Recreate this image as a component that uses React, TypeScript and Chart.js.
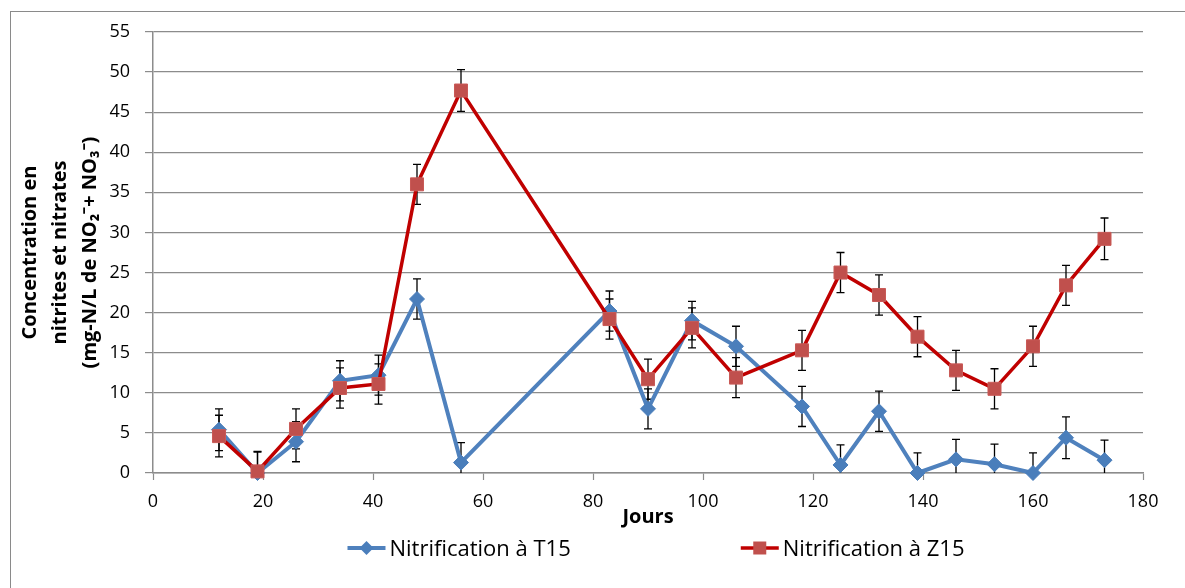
import React, { useEffect, useRef } from "react";
import { Chart, registerables } from "chart.js";

Chart.register(...registerables);

// ---- data ----
const days = [12, 19, 26, 34, 41, 48, 56, 83, 90, 98, 106, 118, 125, 132, 139, 146, 153, 160, 166, 173];
const t15Values = [5.4, 0, 3.9, 11.5, 12.2, 21.7, 1.3, 20.2, 8.0, 19.0, 15.8, 8.3, 1.0, 7.7, 0, 1.7, 1.1, 0, 4.4, 1.6];
const t15Errors = [2.6, 2.6, 2.5, 2.5, 2.5, 2.5, 2.5, 2.5, 2.5, 2.4, 2.5, 2.5, 2.5, 2.5, 2.5, 2.5, 2.5, 2.5, 2.6, 2.5];
const z15Values = [4.6, 0.2, 5.5, 10.6, 11.1, 36.0, 47.7, 19.2, 11.7, 18.1, 11.9, 15.3, 25.0, 22.2, 17.0, 12.8, 10.5, 15.8, 23.4, 29.2];
const z15Errors = [2.6, 2.5, 2.5, 2.5, 2.5, 2.5, 2.6, 2.5, 2.5, 2.5, 2.5, 2.5, 2.5, 2.5, 2.5, 2.5, 2.5, 2.5, 2.5, 2.6];
const seriesLabels = ["Nitrification à T15", "Nitrification à Z15"];
const xTitle = "Jours";
const yTitle = ["Concentration en", "nitrites et nitrates", "(mg-N/L de NO₂⁻+ NO₃⁻)"];
const xRange = [0, 180];
const xStep = 20;
const yRange = [0, 55];
const yStep = 5;

const FONT = "'Open Sans', 'Liberation Sans', sans-serif";
const GRID = "#8c8c8c";

const errorBarsPlugin = {
  id: "errorBars",
  beforeDatasetsDraw(chart: any) {
    const { ctx, chartArea, scales } = chart;
    const x = scales.x;
    const y = scales.y;
    ctx.save();
    ctx.beginPath();
    ctx.rect(chartArea.left, chartArea.top - 20, chartArea.right - chartArea.left, chartArea.bottom - chartArea.top + 20);
    ctx.clip();
    ctx.strokeStyle = "#000";
    ctx.lineWidth = 1.3;
    chart.data.datasets.forEach((ds: any) => {
      const errs: number[] = ds.errorBars || [];
      ds.data.forEach((p: any, i: number) => {
        const e = errs[i];
        if (e == null) return;
        const px = x.getPixelForValue(p.x);
        const top = y.getPixelForValue(p.y + e);
        const bot = y.getPixelForValue(p.y - e);
        ctx.beginPath();
        ctx.moveTo(px, top);
        ctx.lineTo(px, bot);
        ctx.moveTo(px - 4, top);
        ctx.lineTo(px + 4, top);
        ctx.moveTo(px - 4, bot);
        ctx.lineTo(px + 4, bot);
        ctx.stroke();
      });
    });
    ctx.restore();
  },
};

const frameAndLegendPlugin = {
  id: "frameAndLegend",
  beforeDraw(chart: any) {
    const { ctx, width, height } = chart;
    ctx.save();
    ctx.fillStyle = "#fff";
    ctx.fillRect(0, 0, width, height);
    ctx.strokeStyle = "#8a8a8a";
    ctx.lineWidth = 1;
    ctx.strokeRect(10.5, 11.5, width + 10, height + 10);
    ctx.restore();
  },
  afterDraw(chart: any) {
    const { ctx, chartArea } = chart;
    ctx.save();
    ctx.font = `22px ${FONT}`;
    ctx.textBaseline = "middle";
    ctx.textAlign = "left";
    const lineLen = 38;
    const textGap = 4;
    const itemGap = 170;
    const items = chart.data.datasets.map((ds: any) => ({
      ds,
      w: lineLen + textGap + ctx.measureText(ds.label).width,
    }));
    const total = items.reduce((s: number, it: any) => s + it.w, 0) + itemGap * (items.length - 1);
    let cx = (chartArea.left + chartArea.right) / 2 + 8 - total / 2;
    const cy = 548;
    items.forEach((it: any) => {
      const ds = it.ds;
      ctx.strokeStyle = ds.borderColor;
      ctx.lineWidth = ds.borderWidth;
      ctx.beginPath();
      ctx.moveTo(cx, cy);
      ctx.lineTo(cx + lineLen, cy);
      ctx.stroke();
      const mx = cx + lineLen / 2;
      ctx.fillStyle = ds.pointBackgroundColor;
      ctx.beginPath();
      if (ds.pointStyle === "rectRot") {
        const r = 7;
        ctx.moveTo(mx - r, cy);
        ctx.lineTo(mx, cy - r);
        ctx.lineTo(mx + r, cy);
        ctx.lineTo(mx, cy + r);
        ctx.closePath();
      } else {
        ctx.rect(mx - 6.5, cy - 6.5, 13, 13);
      }
      ctx.fill();
      ctx.fillStyle = "#000";
      ctx.fillText(ds.label, cx + lineLen + textGap, cy + 2);
      cx += it.w + itemGap;
    });
    ctx.restore();
  },
};

export default function App() {
  const canvasRef = useRef<HTMLCanvasElement | null>(null);

  useEffect(() => {
    document.body.style.margin = "0";
    const canvas = canvasRef.current;
    if (!canvas) return;
    const chart = new Chart(canvas, {
      type: "line",
      data: {
        datasets: [
          {
            label: seriesLabels[0],
            data: days.map((d, i) => ({ x: d, y: t15Values[i] })),
            errorBars: t15Errors,
            borderColor: "#4F81BD",
            backgroundColor: "#4F81BD",
            pointBackgroundColor: "#4A7EBB",
            pointBorderColor: "#4A7EBB",
            pointStyle: "rectRot",
            pointRadius: 7.5,
            pointBorderWidth: 1,
            borderWidth: 4,
            tension: 0,
            order: 1,
            clip: 12,
          } as any,
          {
            label: seriesLabels[1],
            data: days.map((d, i) => ({ x: d, y: z15Values[i] })),
            errorBars: z15Errors,
            borderColor: "#C00000",
            backgroundColor: "#C00000",
            pointBackgroundColor: "#C0504D",
            pointBorderColor: "#C95A57",
            pointStyle: "rect",
            pointRadius: 9.2,
            pointBorderWidth: 1,
            borderWidth: 3.5,
            tension: 0,
            order: 0,
            clip: 12,
          } as any,
        ],
      },
      options: {
        responsive: false,
        animation: false,
        events: [],
        layout: { padding: { left: 10, top: 32, right: 42, bottom: 55 } },
        plugins: {
          legend: { display: false },
          tooltip: { enabled: false },
        },
        scales: {
          x: {
            type: "linear",
            min: xRange[0],
            max: xRange[1],
            afterFit: (s: any) => {
              s.height = 60;
            },
            ticks: {
              stepSize: xStep,
              color: "#000",
              font: { family: FONT, size: 18 },
              padding: 11,
              maxRotation: 0,
            },
            grid: {
              display: true,
              drawOnChartArea: false,
              drawTicks: true,
              tickLength: 7,
              tickColor: GRID,
              tickWidth: 1.2,
            },
            border: { display: true, color: GRID, width: 1.5 },
            title: {
              display: true,
              text: xTitle,
              color: "#000",
              font: { family: FONT, size: 20, weight: "bold" },
              padding: { top: 0, bottom: 4 },
            },
          },
          y: {
            type: "linear",
            min: yRange[0],
            max: yRange[1],
            afterFit: (s: any) => {
              s.width = 143;
            },
            ticks: {
              stepSize: yStep,
              color: "#000",
              font: { family: FONT, size: 18 },
              padding: 15,
            },
            grid: {
              display: true,
              drawOnChartArea: true,
              drawTicks: true,
              tickLength: 8,
              color: GRID,
              lineWidth: 1.2,
              tickColor: GRID,
            },
            border: { display: true, color: GRID, width: 1.5 },
            title: {
              display: true,
              text: yTitle,
              color: "#000",
              font: { family: FONT, size: 20, weight: "bold", lineHeight: 1.5 },
              padding: { top: 5, bottom: 0 },
            },
          },
        },
      } as any,
      plugins: [errorBarsPlugin, frameAndLegendPlugin],
    });
    return () => chart.destroy();
  }, []);

  return (
    <div style={{ width: 1185, height: 588 }}>
      <canvas ref={canvasRef} width={1185} height={588} style={{ display: "block" }} />
    </div>
  );
}
